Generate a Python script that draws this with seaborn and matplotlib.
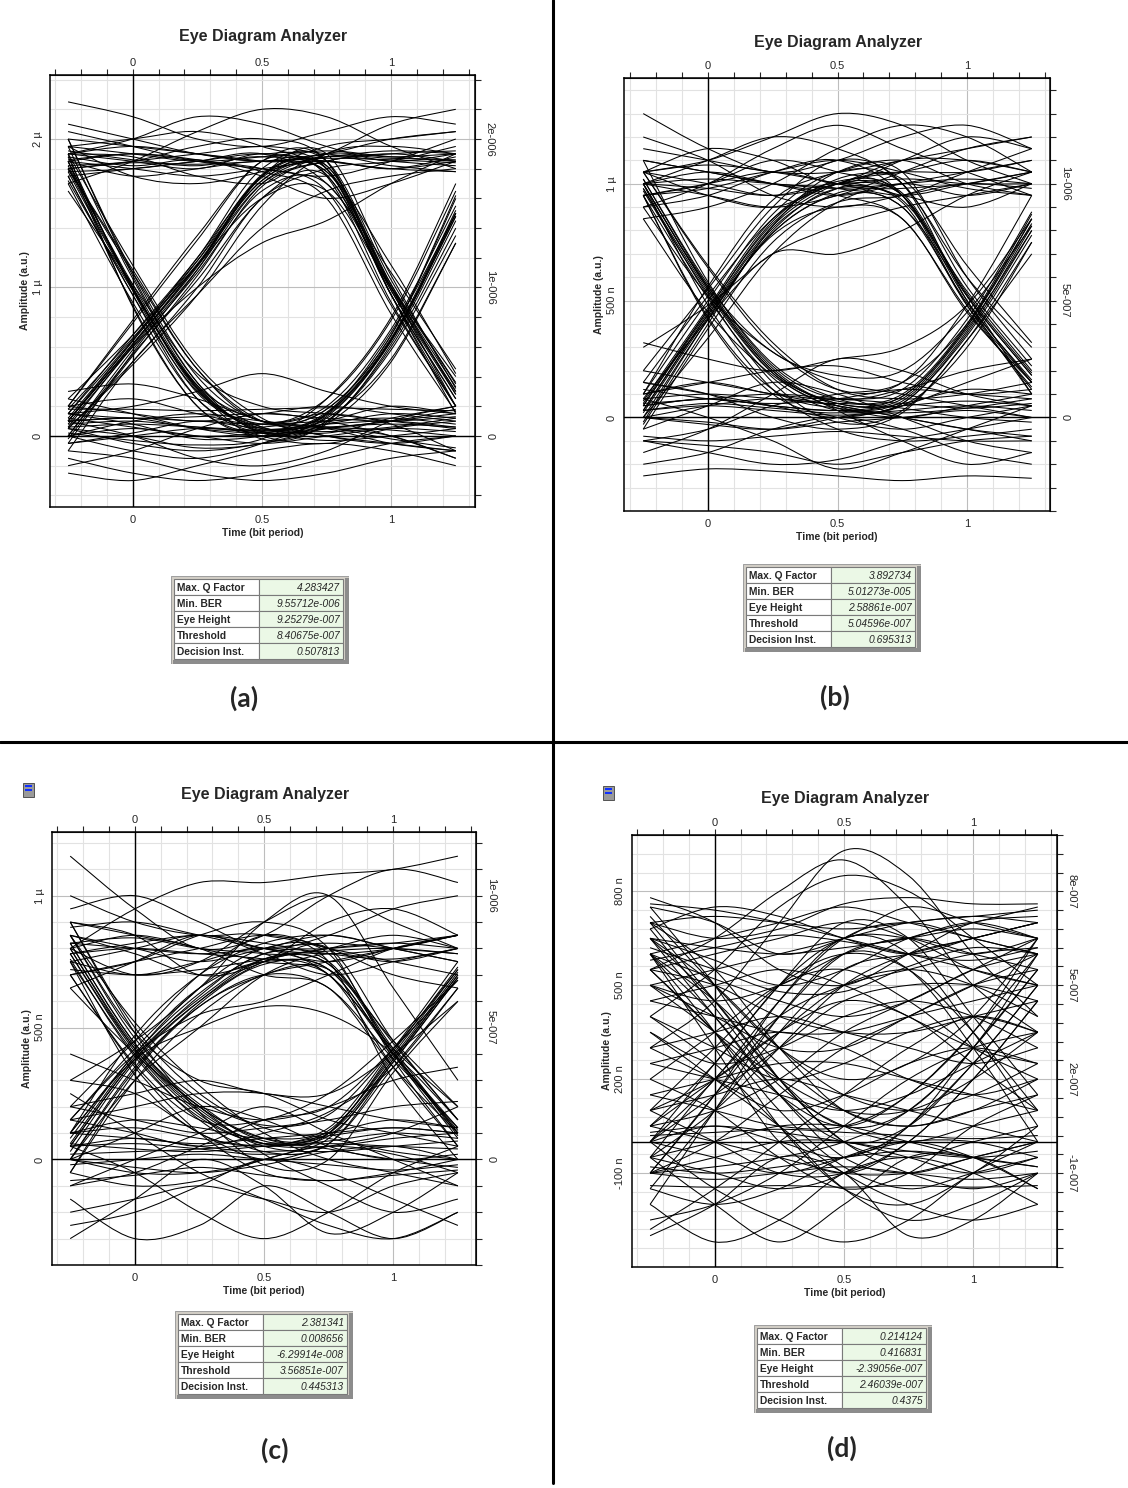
import numpy as np
import matplotlib
matplotlib.use("Agg")
import matplotlib.pyplot as plt
import seaborn as sns
from matplotlib.path import Path
from matplotlib.patches import PathPatch, Rectangle
from matplotlib.lines import Line2D

sample_times = [-0.25, 0.0, 0.25, 0.5, 0.75, 1.0, 1.25]

# amplitudes in nano-units (1 µ = 1000)
traces_a = [
    [1950, 1900, 1850, 1880, 1920, 1880, 1850], [1800, 1850, 1900, 1950, 1900, 1850, 1820],
    [2250, 2150, 2000, 1950, 2050, 2150, 2100], [1700, 1850, 2050, 2200, 2150, 1950, 1800],
    [1900, 2000, 2150, 2100, 1950, 1850, 1900], [1850, 1800, 1750, 1800, 1850, 1800, 1880],
    [2050, 1950, 1850, 1800, 1750, 1850, 2000], [1950, 1750, 1700, 1780, 1900, 2100, 2200],
    [1880, 1820, 1860, 1750, 1600, 1700, 1850], [1820, 1840, 1830, 1850, 1870, 1860, 1840],
    [1900, 1950, 1900, 1850, 1880, 1920, 1900], [1780, 1800, 1850, 1900, 1850, 1800, 1780],
    [2100, 2000, 1900, 1850, 1900, 2000, 2050],
    [1850, 1900, 1850, 1800, 1650, 880, 200], [1900, 1850, 1800, 1900, 1800, 950, 250],
    [2000, 1950, 1900, 1850, 1780, 1150, 420], [1800, 1850, 1950, 2000, 1850, 1000, 200],
    [1950, 2000, 2050, 1950, 1750, 900, 200], [1750, 1800, 1850, 1900, 1700, 1100, 450],
    [1850, 1750, 1800, 1850, 1800, 950, 150], [1900, 1880, 1750, 1700, 1820, 1020, 280],
    [1860, 1900, 1860, 1780, 1600, 820, 160], [1920, 1860, 1820, 1880, 1760, 980, 300],
    [1800, 1000, 320, 50, 80, 100, 60], [1900, 1150, 480, 120, 0, -50, 0],
    [1750, 950, 250, 20, 100, 200, 150], [1850, 880, 200, 0, -50, 50, 100],
    [2000, 1100, 400, 100, 150, 80, -100], [1700, 900, 250, 30, 50, 0, -150],
    [1650, 1020, 420, 200, 150, 100, 50], [1880, 980, 290, 60, 20, 120, 200],
    [1800, 1100, 450, 100, 60, 40, 0], [1950, 1060, 360, 60, 30, 60, 120],
    [1720, 980, 340, 100, 60, -20, -80],
    [1850, 1000, 330, 40, 150, 650, 1500], [1900, 870, 200, 0, 120, 520, 1300],
    [1800, 1120, 450, 100, 250, 780, 1650], [1750, 950, 300, 80, 180, 680, 1600],
    [2000, 1080, 360, 20, 100, 580, 1350], [1850, 1000, 320, -20, 90, 620, 1450],
    [1820, 1020, 340, 30, 130, 640, 1480], [1780, 990, 310, 50, 160, 660, 1520],
    [100, 620, 1150, 1700, 1850, 1900, 1850], [50, 480, 950, 1550, 1900, 1950, 1900],
    [200, 780, 1350, 1850, 1850, 1800, 1850], [0, 550, 1050, 1600, 1800, 1850, 1950],
    [150, 650, 1200, 1750, 1950, 2000, 2050], [-100, 500, 950, 1400, 1650, 1750, 1800],
    [100, 600, 1000, 1300, 1450, 1700, 1900], [250, 680, 1180, 1720, 1880, 1820, 1780],
    [80, 600, 1120, 1700, 1880, 1870, 1860], [120, 640, 1180, 1760, 1900, 1880, 1900],
    [-20, 540, 1080, 1680, 1850, 1900, 1920],
    [100, 620, 1150, 1750, 1800, 1000, 300], [50, 500, 1000, 1600, 1750, 950, 250],
    [150, 680, 1200, 1800, 1850, 1050, 350], [0, 580, 1100, 1650, 1700, 1000, 330],
    [200, 760, 1320, 1850, 1850, 950, 200], [100, 640, 1150, 1600, 1650, 1000, 400],
    [-50, 560, 1120, 1750, 1900, 1080, 320], [180, 660, 1160, 1720, 1820, 980, 280],
    [60, 610, 1140, 1740, 1780, 1020, 360],
    [100, 120, 50, 30, 150, 650, 1500], [50, 0, -80, -50, 80, 500, 1300],
    [200, 250, 150, 80, 200, 720, 1550], [-50, 20, 100, 60, 180, 680, 1620],
    [150, 80, -20, 0, 100, 600, 1400], [0, -100, -150, -50, 150, 700, 1500],
    [80, 100, 60, 40, 140, 640, 1480], [20, -30, -60, -20, 250, 800, 1700],
    [100, 120, 100, 80, 100, 120, 80], [0, 50, 0, -50, 0, 50, 30],
    [200, 150, 100, 150, 200, 150, 100], [-100, -150, -250, -300, -250, -150, -100],
    [300, 350, 250, 100, 0, -50, -100], [-200, -100, 50, 150, 100, 0, -150],
    [150, 200, 300, 420, 300, 200, 150], [50, -50, -100, -50, 50, 100, 180],
    [-150, -250, -300, -250, -150, -50, 0], [100, 0, -150, -200, -100, 100, 200],
    [180, 180, 170, 180, 190, 180, 170], [60, 80, 60, 40, 60, 80, 60],
    [-50, 0, 50, 20, -30, 0, 50], [120, 60, 0, 20, 80, 150, 120],
    [250, 150, 50, 0, 50, 100, 150], [0, 100, 150, 100, 50, -50, -100],
    [-250, -300, -200, -100, -50, -100, -200], [150, 120, 130, 150, 120, 100, 130],
]

traces_b = [
    [1300, 1150, 1050, 1100, 1200, 1250, 1150], [1050, 1100, 1200, 1300, 1250, 1100, 1000],
    [950, 1000, 1050, 1000, 950, 1000, 1050], [1100, 1050, 1000, 950, 1000, 1050, 1100],
    [1000, 950, 900, 950, 1050, 1150, 1200], [1200, 1100, 950, 900, 950, 1000, 980],
    [900, 1000, 1150, 1250, 1150, 1050, 950], [1050, 1150, 1100, 1000, 1100, 1200, 1150],
    [850, 900, 1000, 1150, 1250, 1200, 1050], [1000, 1020, 1000, 980, 1000, 1020, 1000],
    [950, 980, 1050, 1100, 1050, 980, 950], [1150, 1100, 1050, 1050, 1100, 1150, 1200],
    [1050, 1000, 950, 1000, 1100, 1100, 1050],
    [1000, 1050, 1000, 950, 850, 460, 130], [950, 1000, 1100, 1050, 950, 500, 150],
    [1050, 950, 900, 1000, 1020, 650, 320], [1100, 1050, 1000, 980, 900, 520, 100],
    [900, 950, 1050, 1100, 950, 480, 120], [1000, 1100, 1200, 1150, 1000, 600, 300],
    [1000, 980, 950, 1000, 950, 520, 180], [1050, 1080, 1050, 1000, 930, 540, 200],
    [1000, 550, 200, 50, 0, 50, 100], [950, 420, 100, 0, -50, 0, 50],
    [1050, 650, 320, 120, 80, 100, 150], [900, 520, 280, 150, 100, 50, 0],
    [1000, 480, 120, -50, -100, -80, -50], [1100, 580, 220, 80, 120, 200, 250],
    [850, 450, 180, 30, -100, -200, -150], [980, 540, 190, 40, 20, 40, 80],
    [1020, 570, 230, 80, 40, 0, -20], [950, 510, 170, 30, 60, 120, 100],
    [1000, 550, 200, 60, 80, 380, 800], [950, 430, 120, 40, 50, 300, 750],
    [1050, 640, 300, 120, 150, 480, 950], [980, 520, 150, -20, 30, 330, 750],
    [1000, 560, 280, 180, 200, 450, 820], [1020, 560, 210, 60, 90, 390, 830],
    [970, 530, 190, 70, 100, 400, 870],
    [50, 450, 820, 1000, 1050, 1100, 1050], [0, 340, 700, 920, 1000, 950, 1000],
    [100, 560, 930, 1050, 1100, 1000, 950], [-50, 380, 750, 920, 950, 1050, 1150],
    [150, 520, 850, 1000, 950, 900, 1000], [300, 480, 700, 820, 900, 950, 1000],
    [80, 420, 700, 700, 800, 950, 1050], [30, 440, 810, 980, 1020, 1000, 1000],
    [60, 460, 840, 1020, 1050, 1050, 1100], [-20, 420, 790, 960, 980, 1000, 1050],
    [50, 460, 830, 1000, 950, 520, 180], [0, 420, 800, 980, 920, 480, 150],
    [100, 500, 870, 1050, 1000, 560, 220], [30, 440, 780, 900, 850, 450, 150],
    [-30, 400, 820, 1050, 1050, 600, 250], [200, 550, 900, 1100, 1000, 500, 100],
    [70, 470, 850, 1010, 960, 530, 190], [20, 430, 790, 950, 900, 490, 160],
    [50, 80, 50, 30, 70, 370, 820], [0, -30, -50, 0, 60, 350, 780],
    [100, 150, 100, 80, 120, 420, 880], [-100, -50, 50, 100, 150, 400, 850],
    [150, 100, 0, -50, 20, 330, 700], [320, 250, 200, 250, 300, 480, 850],
    [30, 60, 40, 20, 60, 360, 800], [80, 100, 80, 60, 90, 390, 850],
    [50, 80, 50, 30, 50, 70, 50], [0, -20, -50, -20, 0, 30, 0],
    [100, 150, 200, 220, 150, 100, 120], [-100, -120, -150, -200, -150, -100, -80],
    [-250, -220, -230, -250, -270, -250, -260], [200, 150, 100, 50, 0, -50, -100],
    [-150, -50, 100, 250, 200, 100, 50], [80, 0, -100, -220, -150, -50, 50],
    [-50, 50, 150, 100, 0, -100, -150], [150, 100, 50, 0, 50, 150, 250],
    [30, 50, 30, 10, 30, 50, 30], [60, 80, 100, 80, 60, 40, 60],
    [-80, -100, -80, -60, -80, -100, -100], [0, 50, 80, 50, 0, -50, -80],
    [-200, -150, -50, 0, -50, -150, -200], [120, 80, 60, 80, 120, 100, 80],
    [-100, -150, -200, -180, -100, -50, 0],
]

traces_c = [
    [1150, 950, 800, 850, 1000, 1100, 1050], [800, 950, 1050, 1050, 1080, 1100, 1150],
    [850, 800, 750, 800, 850, 800, 750], [750, 800, 850, 800, 750, 800, 850],
    [700, 750, 800, 850, 800, 700, 650], [900, 850, 700, 750, 900, 950, 850],
    [800, 700, 750, 900, 1000, 900, 800], [650, 750, 850, 780, 700, 750, 800],
    [950, 1000, 900, 800, 850, 950, 1000], [820, 800, 780, 800, 820, 800, 780],
    [780, 820, 850, 820, 780, 760, 800], [720, 700, 720, 760, 800, 820, 800],
    [880, 900, 850, 800, 780, 800, 850],
    [800, 850, 800, 750, 700, 400, 120], [850, 780, 700, 750, 800, 450, 150],
    [700, 750, 850, 900, 800, 380, 50], [900, 850, 800, 700, 650, 350, 100],
    [750, 700, 750, 800, 700, 420, 200], [1000, 900, 850, 850, 750, 300, 0],
    [780, 800, 780, 760, 720, 400, 100], [820, 840, 800, 780, 740, 440, 150],
    [800, 420, 180, 60, 50, 80, 100], [850, 520, 280, 100, 0, -50, -100],
    [750, 320, 100, 50, 100, 150, 120], [900, 500, 250, 120, 80, 30, 0],
    [700, 350, 100, -50, -80, -50, 0], [850, 480, 300, 250, 150, 100, 50],
    [650, 400, 200, 20, -100, -200, -150], [780, 410, 170, 50, 30, 50, 70],
    [820, 440, 200, 80, 40, 0, -30], [760, 390, 160, 60, 90, 120, 100],
    [800, 430, 200, 80, 100, 380, 700], [750, 400, 150, 30, 60, 350, 650],
    [850, 460, 230, 130, 170, 420, 720], [900, 480, 180, -20, 0, 330, 600],
    [700, 360, 150, 150, 250, 450, 680], [820, 440, 210, 70, 90, 370, 690],
    [780, 420, 190, 60, 110, 390, 710],
    [50, 380, 600, 750, 800, 850, 800], [0, 300, 500, 700, 780, 750, 800],
    [100, 470, 700, 820, 850, 800, 750], [-50, 330, 580, 700, 750, 800, 850],
    [150, 400, 550, 600, 700, 800, 850], [200, 450, 700, 850, 800, 750, 700],
    [30, 370, 600, 760, 790, 800, 780], [80, 400, 630, 780, 800, 820, 850],
    [50, 380, 620, 780, 750, 420, 100], [100, 400, 650, 800, 780, 400, 80],
    [0, 350, 580, 700, 650, 380, 120], [150, 420, 650, 750, 700, 350, 50],
    [-50, 300, 550, 700, 720, 450, 200], [100, 380, 500, 580, 550, 400, 150],
    [300, 450, 650, 900, 1000, 650, 300], [60, 390, 610, 760, 740, 410, 90],
    [0, 340, 590, 740, 720, 400, 110],
    [50, 80, 50, 30, 80, 380, 700], [0, -50, -50, 0, 100, 400, 720],
    [100, 150, 120, 80, 120, 420, 750], [150, 100, 50, 100, 180, 350, 650],
    [-100, -50, 50, 150, 200, 420, 680], [200, 250, 300, 250, 250, 400, 600],
    [50, 60, 40, 20, 60, 370, 690], [20, 30, 40, 60, 100, 410, 730],
    [100, 120, 80, 50, 70, 100, 80], [0, -30, -50, -20, 30, 50, 0],
    [-50, -100, -80, 0, 50, 20, -50], [150, 200, 250, 250, 200, 150, 120],
    [-150, -300, -250, -100, -200, -300, -200], [-300, -150, 0, -100, -280, -200, -50],
    [250, 100, -50, -150, -250, -300, -200], [-100, 0, 100, 200, 100, 0, -100],
    [50, -50, -200, -300, -200, -50, 50], [300, 250, 100, 0, 50, 100, 200],
    [-200, -150, -100, -150, -200, -100, -50], [60, 40, 30, 50, 60, 50, 40],
    [-20, 0, 20, 0, -20, -40, -20], [100, 80, 60, 80, 100, 120, 100],
    [-80, -60, -30, -60, -80, -60, -40], [200, 150, 100, 120, 150, 200, 220],
    [0, 100, 200, 150, 50, 0, 20], [-250, -200, -100, 0, -50, -150, -250],
    [400, 300, 200, 150, 200, 300, 350],
]

traces_d = [
    [750, 700, 600, 650, 750, 700, 650], [680, 750, 720, 650, 600, 650, 700],
    [600, 650, 700, 750, 700, 650, 600], [550, 600, 650, 700, 650, 550, 500],
    [780, 700, 550, 500, 600, 700, 720], [650, 580, 500, 550, 650, 700, 750],
    [700, 650, 680, 760, 780, 760, 760], [500, 450, 500, 600, 650, 600, 550],
    [620, 550, 480, 480, 560, 620, 600], [550, 650, 800, 900, 750, 500, 350],
    [300, 450, 700, 930, 850, 600, 400], [400, 550, 750, 850, 800, 650, 500],
    [700, 720, 700, 680, 700, 720, 700], [650, 620, 600, 620, 650, 680, 650],
    [580, 620, 660, 640, 600, 580, 620], [760, 740, 700, 650, 600, 550, 500],
    [500, 550, 600, 650, 700, 720, 740],
    [700, 550, 300, 100, 50, 100, 150], [650, 450, 200, 0, -50, 0, 50],
    [600, 400, 150, -50, -100, -50, 0], [550, 350, 100, -80, -150, -100, -50],
    [750, 500, 200, 0, -100, -150, -100], [680, 430, 180, 50, 0, 50, 100],
    [600, 350, 50, -150, -200, -100, 50], [650, 500, 300, 150, 100, 150, 250],
    [600, 450, 250, 100, 50, 100, 200], [500, 350, 200, 100, 100, 200, 350],
    [700, 450, 200, 50, 100, 300, 550],
    [650, 400, 150, 0, 50, 250, 500], [550, 350, 150, 50, 150, 350, 600],
    [600, 300, 0, -100, 0, 200, 450], [720, 500, 300, 200, 250, 400, 650],
    [-100, 150, 400, 600, 650, 700, 650], [0, 200, 450, 650, 700, 650, 600],
    [-150, 100, 350, 550, 600, 650, 700], [50, 250, 500, 650, 650, 600, 650],
    [-50, 200, 400, 500, 550, 600, 620], [-50, 100, 300, 500, 600, 650, 700],
    [-100, 0, 150, 300, 400, 500, 600], [50, 100, 200, 350, 450, 550, 650],
    [100, 300, 500, 600, 550, 350, 100], [-100, 150, 450, 650, 600, 350, 50],
    [0, 250, 500, 700, 650, 400, 150], [-200, 100, 400, 600, 550, 300, 0],
    [50, 200, 350, 450, 400, 250, 100], [100, 200, 350, 500, 550, 500, 400],
    [0, 150, 300, 450, 500, 500, 450],
    [0, 50, 0, -50, 50, 300, 550], [-50, -100, -150, -100, 50, 250, 500],
    [100, 0, -100, -100, 0, 200, 450], [-100, -80, -50, 0, 100, 300, 600],
    [150, 100, 50, 50, 150, 350, 650],
    [0, -50, -100, -50, 0, 0, -50], [-100, -50, 0, 0, -50, -100, -50],
    [50, 0, -50, -100, -100, -50, 0], [-150, -200, -150, -50, 0, -50, -150],
    [-200, -320, -250, -100, -50, -100, -200], [-300, -200, -50, -100, -300, -250, -100],
    [-50, -200, -320, -200, -50, -50, -150], [0, -150, -250, -320, -250, -100, 0],
    [-50, 0, 50, 50, 0, -50, -80], [30, 50, 30, 0, -30, -50, -30],
    [-80, -100, -80, -50, -30, -50, -80], [-100, -120, -100, -80, -100, -120, -100],
    [20, 30, 40, 30, 20, 10, 20],
    [200, 100, -50, -150, -100, 50, 150], [100, 150, 200, 150, 100, 50, 0],
    [300, 200, 100, 150, 250, 300, 250], [250, 300, 350, 300, 200, 150, 200],
    [400, 300, 200, 250, 350, 400, 350], [450, 500, 550, 500, 400, 300, 250],
    [350, 250, 300, 400, 450, 400, 300], [200, 350, 500, 550, 450, 300, 200],
    [500, 400, 300, 300, 400, 500, 550], [-140, -145, -140, -145, -140, -145, -140],
    [600, 520, 450, 400, 450, 550, 600], [-280, -150, 0, 150, 300, 400, 350],
    [400, 250, 50, -150, -250, -200, -100], [300, 350, 400, 350, 300, 250, 300],
    [150, 200, 250, 250, 200, 150, 100], [450, 400, 350, 350, 400, 450, 500],
    [250, 200, 150, 100, 150, 250, 350], [550, 500, 400, 350, 350, 400, 450],
    [-250, -200, -100, 50, 200, 300, 350], [350, 200, 50, -100, -200, -250, -200],
]

table_labels = ["Max. Q Factor", "Min. BER", "Eye Height", "Threshold", "Decision Inst."]
values_a = ["4.283427", "9.55712e-006", "9.25279e-007", "8.40675e-007", "0.507813"]
values_b = ["3.892734", "5.01273e-005", "2.58861e-007", "5.04596e-007", "0.695313"]
values_c = ["2.381341", "0.008656", "-6.29914e-008", "3.56851e-007", "0.445313"]
values_d = ["0.214124", "0.416831", "-2.39056e-007", "2.46039e-007", "0.4375"]

W, H = 1128, 1488

# layout in pixels: plot box (l, t, r, b), zero row, px per n, tick step, labelled ticks
panels = [
    dict(traces=traces_a, values=values_a, tag="(a)", box=(50, 75, 475, 507), zero=436, ppn=0.1485,
         yticks=np.arange(-400, 2500, 200),
         left={0: "0", 1000: "1 µ", 2000: "2 µ"}, right={0: "0", 1000: "1e-006", 2000: "2e-006"},
         title=(263, 37), table=(171, 576), tagpos=(244, 698), icon=None),
    dict(traces=traces_b, values=values_b, tag="(b)", box=(624, 78, 1050, 511), zero=428, ppn=0.241,
         yticks=np.arange(-400, 1500, 100),
         left={0: "0", 500: "500 n", 1000: "1 µ"}, right={0: "0", 500: "5e-007", 1000: "1e-006"},
         title=(838, 42), table=(743, 564), tagpos=(835, 697), icon=None),
    dict(traces=traces_c, values=values_c, tag="(c)", box=(52, 832, 476, 1265), zero=1161, ppn=0.265,
         yticks=np.arange(-400, 1300, 100),
         left={0: "0", 500: "500 n", 1000: "1 µ"}, right={0: "0", 500: "5e-007", 1000: "1e-006"},
         title=(265, 795), table=(175, 1311), tagpos=(275, 1450), icon=(23, 783)),
    dict(traces=traces_d, values=values_d, tag="(d)", box=(632, 835, 1057, 1267), zero=1148, ppn=0.3213,
         yticks=np.arange(-400, 1000, 60),
         left={-100: "-100 n", 200: "200 n", 500: "500 n", 800: "800 n"},
         right={-100: "-1e-007", 200: "2e-007", 500: "5e-007", 800: "8e-007"},
         title=(845, 798), table=(754, 1325), tagpos=(842, 1448), icon=(603, 786)),
]

x_zero_px = {0: 132, 1: 708, 2: 135, 3: 714}
x_ppu = 259.0
xticks = np.round(np.arange(-0.3, 1.31, 0.1), 2)
xlabels = {0.0: "0", 0.5: "0.5", 1.0: "1"}

sns.set_style("white")
plt.rcParams["font.family"] = ["Liberation Sans", "DejaVu Sans"]


def smooth_path(times, values):
    pts = np.column_stack([times, values]).astype(float)
    ext = np.vstack([pts[0], pts, pts[-1]])
    verts, codes = [pts[0]], [Path.MOVETO]
    for i in range(len(pts) - 1):
        p0, p1, p2, p3 = ext[i], ext[i + 1], ext[i + 2], ext[i + 3]
        verts += [p1 + (p2 - p0) / 6, p2 - (p3 - p1) / 6, p2]
        codes += [Path.CURVE4] * 3
    return Path(verts, codes)


def fx(px):
    return px / W


def fy(py):
    return 1 - py / H


fig = plt.figure(figsize=(W / 100, H / 100), dpi=100)

for k, p in enumerate(panels):
    l, t, r, b = p["box"]
    ax = fig.add_axes([fx(l), fy(b), (r - l) / W, (b - t) / H])
    x0 = x_zero_px[k]
    ax.set_xlim((l - x0) / x_ppu, (r - x0) / x_ppu)
    ax.set_ylim((p["zero"] - b) / p["ppn"], (p["zero"] - t) / p["ppn"])

    # grid
    for xv in xticks:
        ax.axvline(xv, color="#bdbdbd" if xv in xlabels else "#e2e2e2", lw=0.8, zorder=0)
    for yv in p["yticks"]:
        ax.axhline(yv, color="#bdbdbd" if yv in p["left"] else "#e2e2e2", lw=0.8, zorder=0)
    ax.axhline(0, color="black", lw=1.0, zorder=1)
    ax.axvline(0, color="black", lw=1.0, zorder=1)

    for tr in p["traces"]:
        ax.add_patch(PathPatch(smooth_path(sample_times, tr), fill=False,
                               ec="black", lw=0.75, zorder=2))

    for s in ax.spines.values():
        s.set_color("black")
        s.set_linewidth(1.1)

    ylab_l = [p["left"].get(int(v), "") for v in p["yticks"]]
    ylab_r = [p["right"].get(int(v), "") for v in p["yticks"]]
    xlab = [xlabels.get(float(v), "") for v in xticks]

    ax.set_xticks(xticks)
    ax.set_xticklabels(xlab, fontsize=8)
    ax.set_xticks(np.arange(-0.32, 1.33, 0.02), minor=True)
    ax.tick_params(axis="x", which="major", direction="out", length=4, width=0.8, pad=2)
    ax.tick_params(axis="x", which="minor", direction="out", length=1.5, width=0.6)
    ax.set_yticks(p["yticks"])
    ax.set_yticklabels(ylab_l, rotation=90, va="center", fontsize=8)
    ax.tick_params(axis="y", direction="out", length=3, width=0.8, pad=2)

    top = ax.secondary_xaxis("top")
    top.set_xticks(xticks)
    top.set_xticklabels(xlab, fontsize=8)
    top.tick_params(direction="out", length=4, width=0.8, pad=1)
    right = ax.secondary_yaxis("right")
    right.set_yticks(p["yticks"])
    right.set_yticklabels(ylab_r, rotation=-90, va="center", fontsize=8)
    right.tick_params(direction="out", length=4, width=0.8, pad=3)

    cx = (l + r) / 2
    fig.text(fx(p["title"][0]), fy(p["title"][1]), "Eye Diagram Analyzer",
             ha="center", va="center", fontsize=11.5, fontweight="bold")
    fig.text(fx(cx), fy(b + 26), "Time (bit period)", ha="center", va="center",
             fontsize=7.5, fontweight="bold")
    fig.text(fx(l - 25), fy((t + b) / 2), "Amplitude (a.u.)", ha="center", va="center",
             rotation=90, fontsize=7.5, fontweight="bold")
    fig.text(fx(p["tagpos"][0]), fy(p["tagpos"][1]), p["tag"], ha="center", va="center",
             fontsize=19, fontweight="bold", family=["Lato", "DejaVu Sans"])

    # results table
    tx, ty = p["table"]
    tw, th = 178, 88
    tab = fig.add_axes([fx(tx), fy(ty + th), tw / W, th / H])
    tab.set_xlim(0, tw)
    tab.set_ylim(th, 0)
    tab.axis("off")
    tab.add_patch(Rectangle((0, 0), tw, th, fc="#d4d0c8", ec="#a0a0a0", lw=0.8))
    tab.add_patch(Rectangle((tw - 4, 2), 4, th - 2, fc="#8c8c8c", ec="none"))
    tab.add_patch(Rectangle((2, th - 4), tw - 2, 4, fc="#8c8c8c", ec="none"))
    for i, (lab, val) in enumerate(zip(table_labels, p["values"])):
        y0 = 3 + i * 16
        tab.add_patch(Rectangle((3, y0), 85, 16, fc="white", ec="#7a7a7a", lw=0.8))
        tab.add_patch(Rectangle((88, y0), 84, 16, fc="#ebf8e6", ec="#7a7a7a", lw=0.8))
        tab.text(6, y0 + 8.5, lab, ha="left", va="center", fontsize=7.4, fontweight="bold")
        tab.text(169, y0 + 8.5, val, ha="right", va="center", fontsize=7.4, style="italic")

    if p["icon"] is not None:
        ix, iy = p["icon"]
        fig.add_artist(Rectangle((fx(ix), fy(iy + 14)), 11 / W, 14 / H, transform=fig.transFigure,
                                 fc="#9a9a9a", ec="#404040", lw=0.6))
        for j in range(2):
            fig.add_artist(Rectangle((fx(ix + 2), fy(iy + 4 + j * 4)), 7 / W, 2.5 / H,
                                     transform=fig.transFigure, fc="#1030ff", ec="none"))

# quadrant separators
fig.add_artist(Line2D([fx(553), fx(553)], [fy(0), fy(1483)], transform=fig.transFigure,
                      color="black", lw=2.2))
fig.add_artist(Line2D([0, 1], [fy(742), fy(742)], transform=fig.transFigure,
                      color="black", lw=2.2))

fig.savefig("out.png", dpi=100)
